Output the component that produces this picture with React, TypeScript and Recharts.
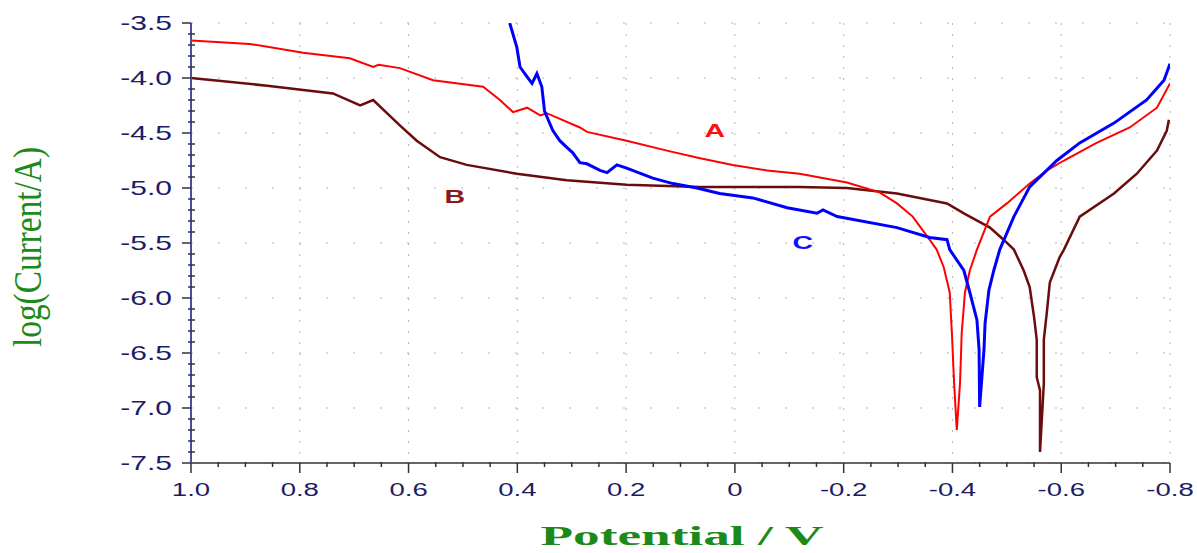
import React from 'react';
import {
  LineChart, Line, XAxis, YAxis, CartesianGrid, ReferenceDot, Label,
} from 'recharts';

// curve A (red)
const A_POTENTIAL = [1.0, 0.892, 0.794, 0.708, 0.665, 0.655, 0.616, 0.555, 0.463, 0.432, 0.408, 0.382, 0.358, 0.346, 0.285, 0.272, 0.199, 0.125, 0.064, 0.004, -0.059, -0.119, -0.206, -0.266, -0.298, -0.327, -0.358, -0.371, -0.384, -0.395, -0.399, -0.403, -0.408, -0.414, -0.417, -0.423, -0.432, -0.445, -0.469, -0.5, -0.542, -0.574, -0.605, -0.665, -0.726, -0.776, -0.8];
const A_LOGI = [-3.66, -3.69, -3.77, -3.82, -3.9, -3.88, -3.91, -4.02, -4.08, -4.2, -4.31, -4.27, -4.34, -4.32, -4.45, -4.49, -4.57, -4.66, -4.73, -4.79, -4.84, -4.87, -4.95, -5.04, -5.14, -5.26, -5.47, -5.56, -5.72, -5.95, -6.32, -6.77, -7.2, -6.77, -6.32, -5.95, -5.75, -5.56, -5.26, -5.14, -4.96, -4.84, -4.75, -4.59, -4.45, -4.27, -4.05];

// curve B (maroon)
const B_POTENTIAL = [1.0, 0.86, 0.739, 0.689, 0.665, 0.616, 0.585, 0.542, 0.493, 0.401, 0.309, 0.199, 0.064, -0.119, -0.206, -0.298, -0.39, -0.421, -0.469, -0.494, -0.513, -0.531, -0.542, -0.55, -0.555, -0.555, -0.561, -0.561, -0.568, -0.568, -0.574, -0.579, -0.597, -0.605, -0.634, -0.697, -0.739, -0.776, -0.794, -0.798];
const B_LOGI = [-4.0, -4.07, -4.14, -4.25, -4.2, -4.43, -4.57, -4.72, -4.79, -4.87, -4.93, -4.97, -4.99, -4.99, -5.0, -5.05, -5.14, -5.23, -5.36, -5.47, -5.56, -5.75, -5.9, -6.17, -6.38, -6.72, -6.84, -7.4, -6.78, -6.38, -6.11, -5.86, -5.63, -5.56, -5.26, -5.05, -4.87, -4.66, -4.48, -4.38];

// curve C (blue)
const C_POTENTIAL = [0.414, 0.401, 0.395, 0.382, 0.373, 0.364, 0.355, 0.35, 0.335, 0.322, 0.309, 0.298, 0.285, 0.272, 0.248, 0.235, 0.217, 0.199, 0.151, 0.114, 0.07, 0.028, -0.033, -0.096, -0.151, -0.162, -0.188, -0.298, -0.358, -0.39, -0.395, -0.421, -0.432, -0.445, -0.449, -0.45, -0.458, -0.46, -0.467, -0.476, -0.487, -0.513, -0.542, -0.592, -0.634, -0.697, -0.757, -0.789, -0.8];
const C_LOGI = [-3.5, -3.72, -3.9, -3.99, -4.05, -3.96, -4.08, -4.3, -4.475, -4.57, -4.63, -4.68, -4.77, -4.78, -4.84, -4.86, -4.79, -4.82, -4.91, -4.96, -5.0, -5.05, -5.09, -5.18, -5.23, -5.2, -5.26, -5.36, -5.45, -5.47, -5.56, -5.75, -5.95, -6.2, -6.47, -6.99, -6.47, -6.23, -5.93, -5.75, -5.56, -5.26, -4.99, -4.75, -4.59, -4.41, -4.2, -4.02, -3.87];

const X_MAJOR_TICKS = [1.0, 0.8, 0.6, 0.4, 0.2, 0, -0.2, -0.4, -0.6, -0.8];
const Y_MAJOR_TICKS = [-3.5, -4.0, -4.5, -5.0, -5.5, -6.0, -6.5, -7.0, -7.5];

const CURVE_TAGS = [
  { text: 'A', e: 0.037, i: -4.47, color: '#ff1010' },
  { text: 'B', e: 0.515, i: -5.07, color: '#8b1a1a' },
  { text: 'C', e: -0.125, i: -5.49, color: '#1010ff' },
];

const toPoints = (xs: number[], ys: number[]) => xs.map((e, k) => ({ e, logI: ys[k] }));
const dataA = toPoints(A_POTENTIAL, A_LOGI);
const dataB = toPoints(B_POTENTIAL, B_LOGI);
const dataC = toPoints(C_POTENTIAL, C_LOGI);

// minor ticks every 0.05 V and every 0.1 decade
const X_ALL_TICKS = Array.from({ length: 37 }, (_, k) => Math.round((-0.8 + k * 0.05) * 100) / 100);
const Y_ALL_TICKS = Array.from({ length: 41 }, (_, k) => Math.round((-7.5 + k * 0.1) * 10) / 10);

const isMajorX = (v: number) => Math.abs(v * 5 - Math.round(v * 5)) < 1e-6;
const isMajorY = (v: number) => Math.abs(v * 2 - Math.round(v * 2)) < 1e-6;
const fmtX = (v: number) => (Math.abs(v) < 1e-9 ? '0' : v.toFixed(1));

const TICK_COLOR = '#1c1c66';
const TICK_FONT = '"Liberation Sans", Arial, sans-serif';
const TITLE_GREEN = '#1b8a1b';

const BottomTick = (props: any) => {
  const { x, y, payload } = props;
  const major = isMajorX(payload.value);
  return (
    <g>
      <line x1={x} x2={x} y1={major ? y : y - 1} y2={y + (major ? 10 : 4)} stroke="#333" strokeWidth={1.5} />
      {major && (
        <text transform={`translate(${x},${y + 33}) scale(1.45,1)`} textAnchor="middle" fontSize={19} fill={TICK_COLOR} fontFamily={TICK_FONT}>
          {fmtX(payload.value)}
        </text>
      )}
    </g>
  );
};

const TopTick = (props: any) => {
  const { x, y, payload } = props;
  const major = isMajorX(payload.value);
  return <line x1={x} x2={x} y1={y} y2={y - (major ? 10 : 4)} stroke="#444" strokeWidth={1.5} />;
};

const LeftTick = (props: any) => {
  const { x, y, payload } = props;
  const major = isMajorY(payload.value);
  return (
    <g>
      <line x1={major ? x - 9 : x - 3} x2={major ? x : x + 4} y1={y} y2={y} stroke="#333" strokeWidth={1.5} />
      {major && (
        <text transform={`translate(${x - 19},${y + 7}) scale(1.5,1)`} textAnchor="end" fontSize={20} fill={TICK_COLOR} fontFamily={TICK_FONT}>
          {payload.value.toFixed(1)}
        </text>
      )}
    </g>
  );
};

const RightTick = (props: any) => {
  const { x, y, payload } = props;
  const major = isMajorY(payload.value);
  return <line x1={x - (major ? 6 : 4)} x2={x + 4} y1={y} y2={y} stroke="#333" strokeWidth={1.5} />;
};

const yTitle = () => (
  <text
    transform="translate(41,247) scale(1.4,1) rotate(-90)"
    textAnchor="middle"
    fontFamily='"Liberation Serif", "Times New Roman", serif'
    fontSize={29}
    fill={TITLE_GREEN}
    textLength={200}
    lengthAdjust="spacingAndGlyphs"
  >
    log(Current/A)
  </text>
);

const xTitle = () => (
  <text
    x={682}
    y={545}
    textAnchor="middle"
    fontFamily='"Liberation Serif", "Times New Roman", serif'
    fontWeight="bold"
    fontSize={27}
    fill={TITLE_GREEN}
    textLength={283}
    lengthAdjust="spacingAndGlyphs"
  >
    Potential / V
  </text>
);

const tagContent = (text: string, color: string) => (props: any) => {
  const vb = props.viewBox || {};
  return (
    <text transform={`translate(${vb.x},${vb.y + 7}) scale(1.5,1)`} textAnchor="middle" fontSize={19} fontWeight="bold" fill={color} fontFamily={TICK_FONT}>
      {text}
    </text>
  );
};

export default function App() {
  return (
    <div style={{ position: 'absolute', left: 0, top: 0, width: 1197, height: 553, background: '#fff' }}>
      <LineChart width={1197} height={553} margin={{ top: 23, right: 27, bottom: 60, left: 91 }}>
        <CartesianGrid horizontal={false} verticalValues={X_MAJOR_TICKS} stroke="#b5b5b5" strokeDasharray="2 9" />
        <CartesianGrid vertical={false} horizontalValues={Y_MAJOR_TICKS} stroke="#b5b5b5" strokeDasharray="2 25" />
        <XAxis
          dataKey="e"
          type="number"
          domain={[-0.8, 1.0]}
          reversed
          allowDataOverflow
          ticks={X_ALL_TICKS}
          interval={0}
          tick={<BottomTick />}
          tickLine={false}
          tickSize={0}
          tickMargin={0}
          height={30}
          axisLine={{ stroke: '#333', strokeWidth: 1.5 }}
        >
          <Label content={xTitle} />
        </XAxis>
        <XAxis
          xAxisId="top"
          orientation="top"
          dataKey="e"
          type="number"
          domain={[-0.8, 1.0]}
          reversed
          allowDataOverflow
          ticks={X_ALL_TICKS}
          interval={0}
          tick={<TopTick />}
          tickLine={false}
          tickSize={0}
          tickMargin={0}
          height={0}
          axisLine={{ stroke: '#555', strokeWidth: 1.5 }}
        />
        <YAxis
          type="number"
          domain={[-7.5, -3.5]}
          allowDataOverflow
          ticks={Y_ALL_TICKS}
          interval={0}
          tick={<LeftTick />}
          tickLine={false}
          tickSize={0}
          tickMargin={0}
          width={100}
          axisLine={{ stroke: '#4b4ba8', strokeWidth: 2 }}
        >
          <Label content={yTitle} />
        </YAxis>
        <YAxis
          yAxisId="right"
          orientation="right"
          type="number"
          domain={[-7.5, -3.5]}
          allowDataOverflow
          ticks={Y_ALL_TICKS}
          interval={0}
          tick={<RightTick />}
          tickLine={false}
          tickSize={0}
          tickMargin={0}
          width={0}
          axisLine={{ stroke: '#8a8ac0', strokeWidth: 2 }}
        />
        <Line data={dataB} dataKey="logI" type="linear" stroke="#6a0c0c" strokeWidth={2.5} dot={false} isAnimationActive={false} />
        <Line data={dataA} dataKey="logI" type="linear" stroke="#ff0000" strokeWidth={2} dot={false} isAnimationActive={false} />
        <Line data={dataC} dataKey="logI" type="linear" stroke="#0000ff" strokeWidth={3} dot={false} isAnimationActive={false} />
        {CURVE_TAGS.map((t) => (
          <ReferenceDot key={t.text} x={t.e} y={t.i} r={0} fill="none" stroke="none" label={{ content: tagContent(t.text, t.color) }} />
        ))}
      </LineChart>
    </div>
  );
}
